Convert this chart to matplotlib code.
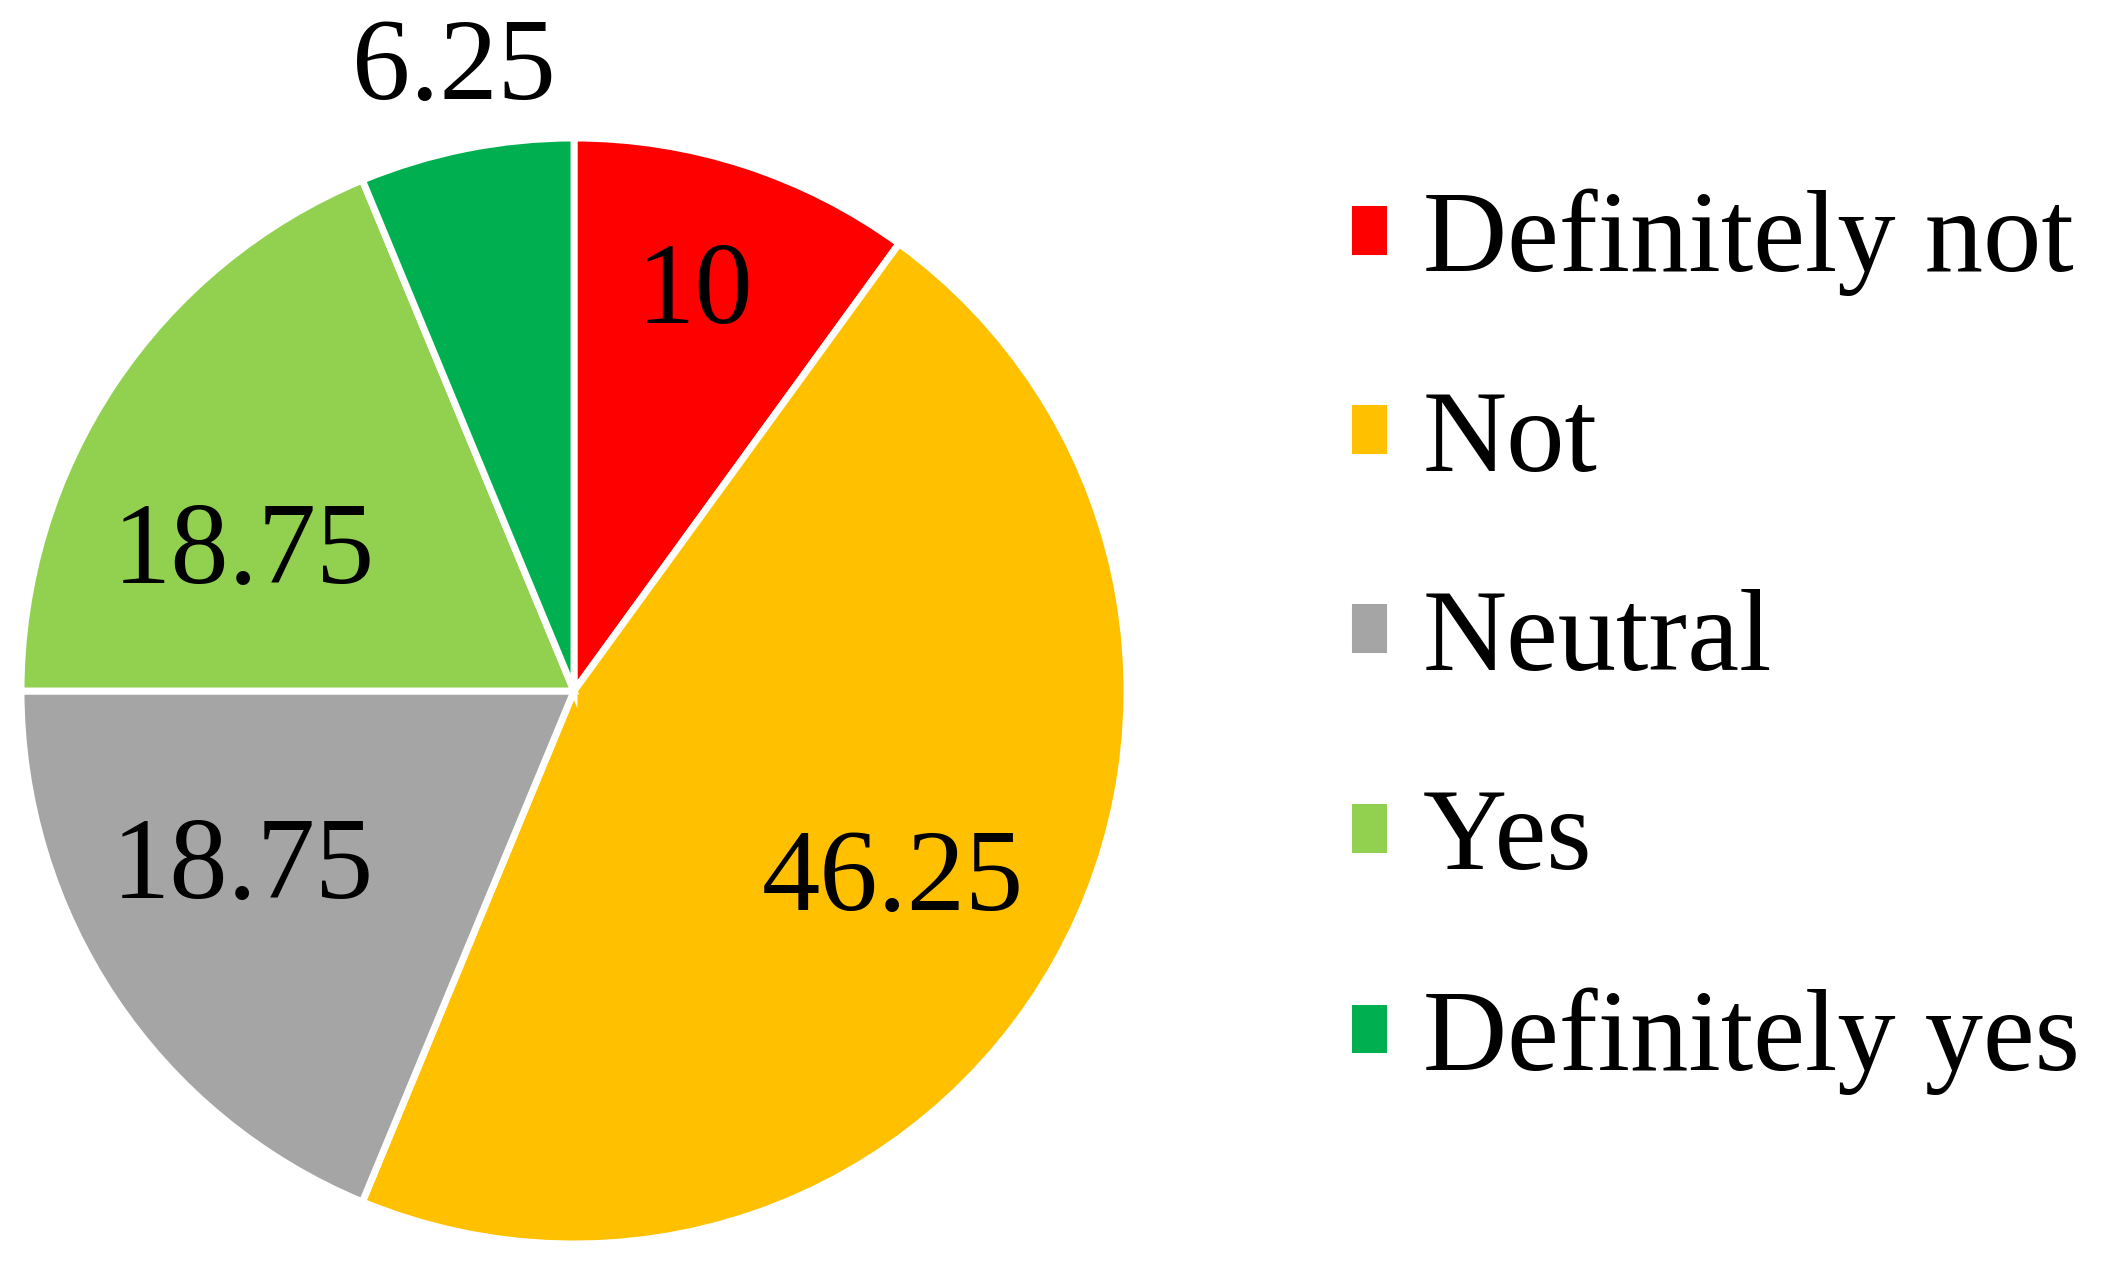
import numpy as np
import matplotlib.pyplot as plt

# Data
labels = ['Definitely not', 'Not', 'Neutral', 'Yes', 'Definitely yes']
values = [10, 46.25, 18.75, 18.75, 6.25]
value_text = ['10', '46.25', '18.75', '18.75', '6.25']
colors = ['#FF0000', '#FFC000', '#A5A5A5', '#92D050', '#00B050']
# label placement: distance from centre (radius = 1) and angle nudge in degrees
label_dist = [0.77, 0.66, 0.67, 0.655, 1.165]
label_shift = [1.5, 0, -7, 9.5, -0.5]

plt.rcParams['font.family'] = ['Liberation Serif', 'DejaVu Serif']

fig = plt.figure(figsize=(21.03, 12.66), dpi=100)

# pie centre ~ (574, 691) px, radius ~553 px
cx, cy, r = 574 / 2103, 1 - 691 / 1266, 553
w, h = 2 * r / 2103, 2 * r / 1266
ax = fig.add_axes([cx - w / 2, cy - h / 2, w, h])

wedges, _ = ax.pie(values, colors=colors, startangle=90, counterclock=False,
                   radius=1, wedgeprops=dict(edgecolor='white', linewidth=5))

for wdg, txt, d, s in zip(wedges, value_text, label_dist, label_shift):
    ang = np.deg2rad((wdg.theta1 + wdg.theta2) / 2 + s)
    ax.text(d * np.cos(ang), d * np.sin(ang), txt, ha='center', va='center_baseline',
            fontsize=84, color='black')

ax.set_xlim(-1, 1)
ax.set_ylim(-1, 1)
ax.set_aspect('equal')
ax.axis('off')

fig.legend(wedges, labels, loc='upper left', bbox_to_anchor=(1348 / 2103, 1 - 189 / 1266),
           frameon=False, fontsize=84, handlelength=0.36, handleheight=0.36,
           handletextpad=0.28, labelspacing=0.8, borderpad=0, borderaxespad=0)

fig.savefig('out.png', dpi=100)
